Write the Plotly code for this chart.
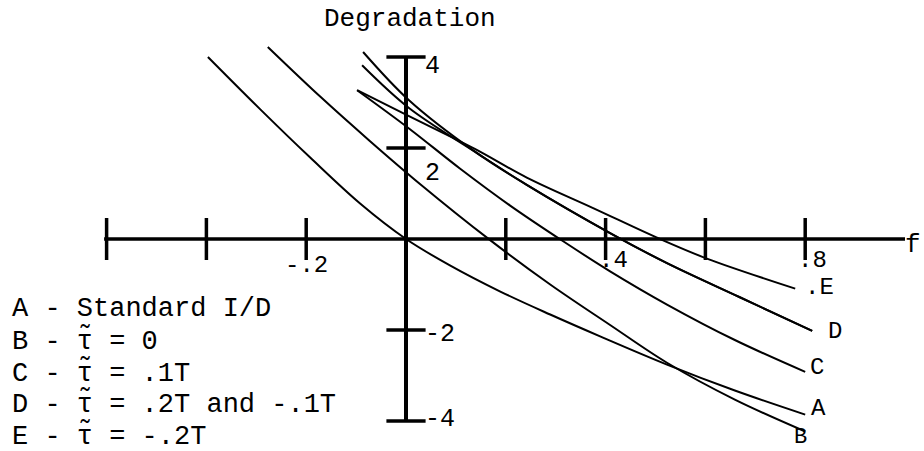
import plotly.graph_objects as go

# ---- curves: f (x) vs degradation (y) ----
a_f = [-0.397, -0.293, -0.192, -0.092, 0.0, 0.088, 0.188, 0.289, 0.389, 0.523, 0.659, 0.800]
a_deg = [4.00, 2.86, 1.79, 0.78, 0.0, -0.58, -1.15, -1.66, -2.14, -2.76, -3.33, -3.86]

b_f = [-0.277, -0.172, -0.072, 0.028, 0.168, 0.289, 0.409, 0.523, 0.659, 0.800]
b_deg = [4.22, 3.13, 2.15, 1.21, -0.02, -1.00, -1.89, -2.72, -3.53, -4.23]

c_f = [-0.098, 0.006, 0.108, 0.208, 0.315, 0.409, 0.523, 0.659, 0.800]
c_deg = [3.27, 2.43, 1.55, 0.74, -0.05, -0.71, -1.44, -2.22, -2.92]

d1_f = [-0.086, 0.006, 0.138, 0.242, 0.409, 0.523, 0.669, 0.814]
d1_deg = [4.11, 3.05, 1.92, 1.19, 0.13, -0.53, -1.28, -2.02]

d2_f = [-0.088, 0.006, 0.138, 0.242, 0.409, 0.523, 0.669, 0.814]
d2_deg = [3.82, 2.88, 1.92, 1.19, 0.13, -0.53, -1.28, -2.02]

e_f = [-0.098, 0.006, 0.138, 0.242, 0.375, 0.509, 0.603, 0.780]
e_deg = [3.27, 2.70, 1.98, 1.35, 0.68, 0.00, -0.43, -1.09]

# ---- axes ----
x_ticks = [-0.6, -0.4, -0.2, 0.2, 0.4, 0.6, 0.8]
y_ticks = [4, 2, -2, -4]
x_tick_labels = {-0.2: "-.2", 0.4: ".4", 0.8: ".8"}
y_tick_labels = {4: "4", 2: "2", -2: "-2", -4: "-4"}
x_axis_span = [-0.605, 1.0]
y_axis_span = [4.0, -4.0]

legend_rows = [
    "A - Standard I/D",
    "B - τ̃ = 0",
    "C - τ̃ = .1T",
    "D - τ̃ = .2T and -.1T",
    "E - τ̃ = -.2T",
]

W, H = 924, 451
X0, XS = 406, 499      # pixel of f=0, pixels per unit f
Y0, YS = 239, 45.5     # pixel of degradation=0, pixels per unit

FONT = "Liberation Mono, DejaVu Sans Mono, monospace"
INK = "#000000"


def paper(px, py):
    return px / W, 1 - py / H


fig = go.Figure()

# axis lines
fig.add_trace(go.Scatter(x=x_axis_span, y=[0, 0], mode="lines",
                         line=dict(color=INK, width=3.5), hoverinfo="skip"))
fig.add_trace(go.Scatter(x=[0, 0], y=y_axis_span, mode="lines",
                         line=dict(color=INK, width=4), hoverinfo="skip"))
# tick marks
fig.add_trace(go.Scatter(x=x_ticks, y=[0] * len(x_ticks), mode="markers",
                         marker=dict(symbol="line-ns", size=30,
                                     line=dict(color=INK, width=3.5)),
                         hoverinfo="skip"))
fig.add_trace(go.Scatter(x=[0] * len(y_ticks), y=y_ticks, mode="markers",
                         marker=dict(symbol="line-ew", size=28,
                                     line=dict(color=INK, width=3.5)),
                         hoverinfo="skip"))

# curves
for fx, fy in [(a_f, a_deg), (b_f, b_deg), (c_f, c_deg),
               (d1_f, d1_deg), (d2_f, d2_deg), (e_f, e_deg)]:
    fig.add_trace(go.Scatter(x=fx, y=fy, mode="lines",
                             line=dict(color=INK, width=2, shape="spline",
                                       smoothing=1.0),
                             hoverinfo="skip"))

ann = []
# x tick labels
for v, t in x_tick_labels.items():
    if v < 0:
        ann.append(dict(x=v, y=0, xref="x", yref="y", text=t, showarrow=False,
                        xanchor="center", yanchor="middle", yshift=-26,
                        font=dict(family=FONT, size=24, color=INK)))
    else:
        ann.append(dict(x=v, y=0, xref="x", yref="y", text=t, showarrow=False,
                        xanchor="left", yanchor="middle", xshift=-9, yshift=-21,
                        font=dict(family=FONT, size=24, color=INK)))
# y tick labels
y_label_shift = {4: -9, 2: -25, -2: -4, -4: 2}
for v, t in y_tick_labels.items():
    ann.append(dict(x=0, y=v, xref="x", yref="y", text=t, showarrow=False,
                    xanchor="left", yanchor="middle", xshift=17,
                    yshift=y_label_shift[v],
                    font=dict(family=FONT, size=25, color=INK)))

# curve end labels
curve_labels = [(".E", 803, 287, "left", 24), ("D", 835, 331, "center", 24),
                ("C", 817, 367, "center", 24), ("A", 818, 408, "center", 24),
                ("B", 800, 437, "center", 22)]
for t, px, py, anc, sz in curve_labels:
    x, y = paper(px, py)
    ann.append(dict(x=x, y=y, xref="paper", yref="paper", text=t,
                    showarrow=False, xanchor=anc, yanchor="middle",
                    font=dict(family=FONT, size=sz, color=INK)))

# axis names
x, y = paper(410, 19)
ann.append(dict(x=x, y=y, xref="paper", yref="paper", text="Degradation",
                showarrow=False, xanchor="center", yanchor="middle",
                font=dict(family=FONT, size=26, color=INK)))
x, y = paper(913, 245)
ann.append(dict(x=x, y=y, xref="paper", yref="paper", text="f",
                showarrow=False, xanchor="center", yanchor="middle",
                font=dict(family=FONT, size=26, color=INK)))

# key
for i, row in enumerate(legend_rows):
    x, y = paper(10, 309 + 31.5 * i)
    ann.append(dict(x=x, y=y, xref="paper", yref="paper", text=row,
                    showarrow=False, xanchor="left", yanchor="middle",
                    font=dict(family=FONT, size=27, color=INK)))

fig.update_layout(
    width=W, height=H,
    margin=dict(l=0, r=0, t=0, b=0),
    paper_bgcolor="white", plot_bgcolor="white",
    showlegend=False,
    xaxis=dict(range=[-X0 / XS, (W - X0) / XS], visible=False, fixedrange=True),
    yaxis=dict(range=[(Y0 - H) / YS, Y0 / YS], visible=False, fixedrange=True),
    annotations=ann,
)

fig.write_html("out.html")
